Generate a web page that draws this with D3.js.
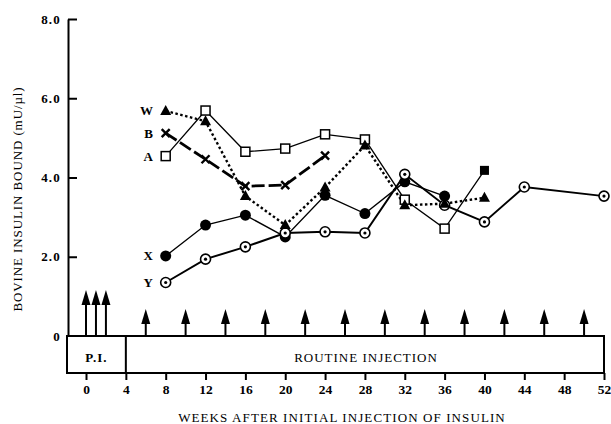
<!DOCTYPE html>
<html>
<head>
<meta charset="utf-8">
<script src="https://cdn.jsdelivr.net/npm/d3@7"></script>
<style>
  body { margin: 0; background: #fff; }
  text { font-family: "Liberation Serif", "DejaVu Serif", serif; fill: #000; }
</style>
</head>
<body>
<div id="grafico"></div>
<script>
// valores (semanas, mU/µl)
const serieA = [[8, 4.54], [12, 5.69], [16, 4.65], [20, 4.73], [24, 5.09], [28, 4.96], [32, 3.44], [36, 2.71]];
const serieA_fim = [[40, 4.18]];
const serieB = [[8, 5.12], [12, 4.46], [16, 3.78], [20, 3.81], [24, 4.55]];
const serieW = [[8, 5.68], [12, 5.42], [16, 3.53], [20, 2.80], [24, 3.75], [28, 4.81], [32, 3.30], [36, 3.34], [40, 3.49]];
const serieX = [[8, 2.02], [12, 2.80], [16, 3.05], [20, 2.50], [24, 3.55], [28, 3.09], [32, 3.89], [36, 3.53]];
const serieY = [[8, 1.35], [12, 1.94], [16, 2.25], [20, 2.60], [24, 2.63], [28, 2.60], [32, 4.08], [36, 3.30], [40, 2.88], [44, 3.76], [52, 3.53]];
const rotulos = [["W", 5.68], ["B", 5.12], ["A", 4.54], ["X", 2.02], ["Y", 1.35]];
const yTicks = [0, 2, 4, 6, 8];
const yTickLabels = ["0", "2.0", "4.0", "6.0", "8.0"];
const xTicks = [0, 4, 8, 12, 16, 20, 24, 28, 32, 36, 40, 44, 48, 52];
const injecoesPI = [0, 1, 2];
const injecoesRotina = [6, 10, 14, 18, 22, 26, 30, 34, 38, 42, 46, 50];

const width = 611, height = 424;
const svg = d3.select("#grafico").append("svg")
    .attr("width", width)
    .attr("height", height);

const x = d3.scaleLinear().domain([0, 52]).range([86, 604]);
const y = d3.scaleLinear().domain([0, 8]).range([336, 19]);
const boxBottom = 373;

// eixo Y
svg.append("g")
    .attr("transform", "translate(68,0)")
    .call(d3.axisLeft(y).tickValues(yTicks)
        .tickFormat((d, i) => yTickLabels[i])
        .tickSizeInner(-9).tickSizeOuter(0).tickPadding(7))
    .call(g => g.select(".domain").attr("stroke-width", 2))
    .call(g => g.selectAll(".tick line").attr("stroke-width", 2))
    .call(g => g.selectAll(".tick text")
        .style("font-family", "'Liberation Serif', serif")
        .style("font-weight", "bold").style("font-size", "13px")
        .style("letter-spacing", "1.2px"));
svg.select("g .tick:first-of-type line").remove();

// caixa inferior
svg.append("path")
    .attr("d", `M67,${y(0)}H${x(52)}V${boxBottom}H67Z M${x(4)},${y(0)}V${boxBottom}`)
    .attr("fill", "none").attr("stroke", "#000").attr("stroke-width", 2);

svg.append("g")
    .attr("transform", `translate(0,${boxBottom})`)
    .call(d3.axisBottom(x).tickValues(xTicks).tickSize(7).tickPadding(4))
    .call(g => g.select(".domain").remove())
    .call(g => g.selectAll(".tick line").attr("stroke-width", 2))
    .call(g => g.selectAll(".tick text")
        .style("font-family", "'Liberation Serif', serif")
        .style("font-weight", "bold").style("font-size", "13.5px"));

svg.append("text").attr("x", (67 + x(4)) / 2).attr("y", 362)
    .attr("text-anchor", "middle").style("font-size", "13px").style("letter-spacing", "1px")
    .style("font-weight", "bold").text("P.I.");
svg.append("text").attr("x", 366).attr("y", 362)
    .attr("text-anchor", "middle").style("font-size", "13px").style("letter-spacing", "1px")
    .text("ROUTINE INJECTION");

// títulos
svg.append("text").attr("x", 342).attr("y", 422)
    .attr("text-anchor", "middle").style("font-size", "13px").style("letter-spacing", "1.1px")
    .text("WEEKS AFTER INITIAL INJECTION OF INSULIN");
svg.append("text")
    .attr("transform", "translate(22,199) rotate(-90)")
    .attr("text-anchor", "middle").style("font-size", "13px").style("letter-spacing", "0.9px")
    .text("BOVINE INSULIN BOUND (mU/µl)");

// setas de injeção
function seta(semana, topo) {
    const cx = x(semana);
    svg.append("line").attr("x1", cx).attr("x2", cx)
        .attr("y1", y(0)).attr("y2", y(topo) + 8)
        .attr("stroke", "#000").attr("stroke-width", 2);
    svg.append("path")
        .attr("d", `M${cx},${y(topo)}L${cx - 4.5},${y(topo) + 15}L${cx + 4.5},${y(topo) + 15}Z`)
        .attr("fill", "#000");
}
injecoesPI.forEach(s => seta(s, 1.16));
injecoesRotina.forEach(s => seta(s, 0.68));

// linhas
const line = d3.line().x(d => x(d[0])).y(d => y(d[1]));
function desenhaLinha(dados, largura, dash) {
    svg.append("path").datum(dados).attr("d", line)
        .attr("fill", "none").attr("stroke", "#000")
        .attr("stroke-width", largura)
        .attr("stroke-dasharray", dash);
}
desenhaLinha(serieA.concat(serieA_fim), 1.3, null);
desenhaLinha(serieX, 1.4, null);
desenhaLinha(serieY, 2, null);
desenhaLinha(serieW, 2.4, "2.5,2.5");
desenhaLinha(serieB, 2.8, "13,4");

// marcadores
const g = svg.append("g");
g.selectAll(".sqA").data(serieA).join("rect")
    .attr("x", d => x(d[0]) - 4.5).attr("y", d => y(d[1]) - 4.5)
    .attr("width", 9).attr("height", 9)
    .attr("fill", "#fff").attr("stroke", "#000").attr("stroke-width", 1.5);
g.selectAll(".sqA2").data(serieA_fim).join("rect")
    .attr("x", d => x(d[0]) - 4.5).attr("y", d => y(d[1]) - 4.5)
    .attr("width", 9).attr("height", 9).attr("fill", "#000");
g.selectAll(".cX").data(serieX).join("circle")
    .attr("cx", d => x(d[0])).attr("cy", d => y(d[1])).attr("r", 5.5).attr("fill", "#000");
g.selectAll(".cY").data(serieY).join("circle")
    .attr("cx", d => x(d[0])).attr("cy", d => y(d[1])).attr("r", 5)
    .attr("fill", "#fff").attr("stroke", "#000").attr("stroke-width", 1.6);
g.selectAll(".dY").data(serieY).join("circle")
    .attr("cx", d => x(d[0])).attr("cy", d => y(d[1])).attr("r", 1.6).attr("fill", "#000");
g.selectAll(".tW").data(serieW).join("path")
    .attr("d", d => {
        const cx = x(d[0]), cy = y(d[1]);
        return `M${cx},${cy - 6}L${cx - 5.5},${cy + 4}L${cx + 5.5},${cy + 4}Z`;
    })
    .attr("fill", "#000");
g.selectAll(".xB").data(serieB).join("path")
    .attr("d", d => {
        const cx = x(d[0]), cy = y(d[1]);
        return `M${cx - 4},${cy - 4}L${cx + 4},${cy + 4}M${cx - 4},${cy + 4}L${cx + 4},${cy - 4}`;
    })
    .attr("stroke", "#000").attr("stroke-width", 2.4);

// rótulos das séries
svg.selectAll(".rot").data(rotulos).join("text")
    .attr("x", 153).attr("y", d => y(d[1]) + 4.5)
    .attr("text-anchor", "end")
    .style("font-size", "13px").style("font-weight", "bold")
    .text(d => d[0]);
</script>
</body>
</html>
